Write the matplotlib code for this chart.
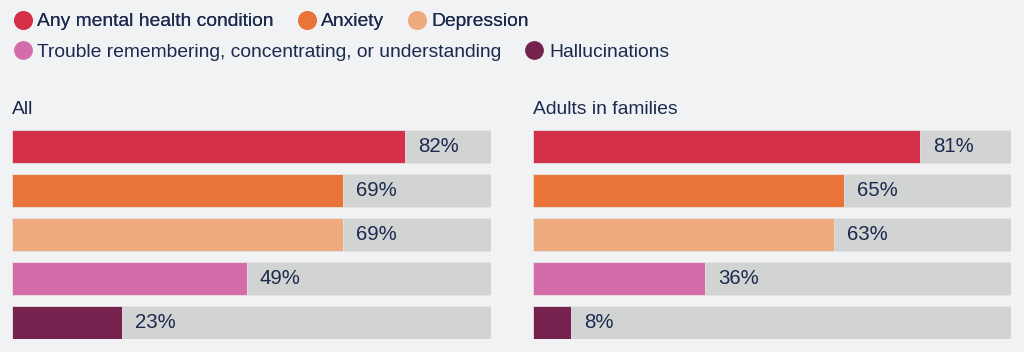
import matplotlib.pyplot as plt
from matplotlib.lines import Line2D

plt.rcParams['font.family'] = ['Liberation Sans', 'DejaVu Sans']

conditions = ["Any mental health condition", "Anxiety", "Depression",
              "Trouble remembering, concentrating, or understanding", "Hallucinations"]
colors = ["#d5304a", "#e8743a", "#efab7d", "#d46ca9", "#75224f"]
panels = ["All", "Adults in families"]
values_all = [82, 69, 69, 49, 23]
values_families = [81, 65, 63, 36, 8]

bg = "#f0f2f4"
gray = "#d2d3d3"
ink = "#1b2a4e"
fs = 13.9

fig = plt.figure(figsize=(10.24, 3.52), dpi=100, facecolor=bg)

def panel(rect, title, values):
    ax = fig.add_axes(rect)
    ax.set_facecolor(bg)
    pos = range(len(values))
    ax.barh(pos, [100] * len(values), height=0.75, color=gray, edgecolor="#e4e5e6", linewidth=0.6)
    ax.barh(pos, values, height=0.75, color=colors, edgecolor="#e4e5e6", linewidth=0.6)
    for p, v in zip(pos, values):
        ax.annotate(f"{v}%", (v, p), xytext=(9.4, 0), textcoords="offset points",
                    va="center", ha="left", fontsize=fs + 0.8, color=ink)
    ax.set_xlim(0, 100)
    ax.set_ylim(len(values) - 1 + 0.375, -0.375)
    ax.axis("off")
    ax.text(0, -0.64, title, fontsize=fs, color=ink, va="bottom", ha="left")
    return ax

W, H = 1024, 352
panel([12 / W, (H - 339) / H, 479 / W, 209 / H], panels[0], values_all)
panel([533 / W, (H - 339) / H, 478 / W, 209 / H], panels[1], values_families)

handles = [Line2D([], [], marker="o", linestyle="none", markersize=12.5,
                  markerfacecolor=c, markeredgecolor=c) for c in colors]
leg1 = fig.legend(handles[:3], conditions[:3], loc="upper left", bbox_to_anchor=(-0.004, 1.013),
                  ncol=3, frameon=False, fontsize=fs, handletextpad=0.25,
                  columnspacing=1.2, handlelength=1.0, labelcolor=ink)
fig.legend(handles[3:], conditions[3:], loc="upper left", bbox_to_anchor=(-0.004, 0.927),
           ncol=2, frameon=False, fontsize=fs, handletextpad=0.25,
           columnspacing=1.2, handlelength=1.0, labelcolor=ink)
fig.add_artist(leg1)

fig.savefig("out.png", dpi=100, facecolor=bg)
